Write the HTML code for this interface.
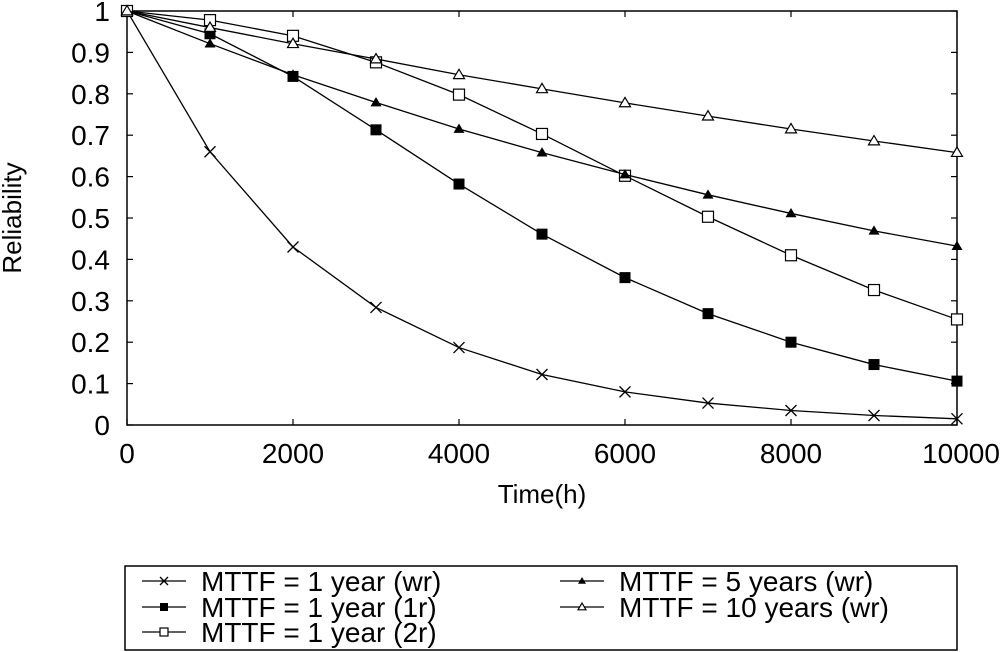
<!DOCTYPE html>
<html><head><meta charset="utf-8"><style>
html,body{margin:0;padding:0;background:#fff;}
svg{display:block;font-family:"Liberation Sans",Arial,sans-serif;}
</style></head><body>
<svg id="chart" width="1000" height="652" viewBox="0 0 1000 652"></svg>
<script>
const times=[0,1000,2000,3000,4000,5000,6000,7000,8000,9000,10000];
const seriesWr=[1,0.66,0.43,0.284,0.187,0.122,0.08,0.053,0.035,0.023,0.015];
const series1r=[1,0.945,0.842,0.713,0.582,0.461,0.356,0.269,0.2,0.146,0.106];
const series2r=[1,0.978,0.94,0.876,0.798,0.703,0.602,0.503,0.41,0.326,0.255];
const series5y=[1,0.921,0.846,0.779,0.715,0.658,0.605,0.556,0.511,0.469,0.432];
const series10y=[1,0.96,0.921,0.884,0.846,0.812,0.778,0.746,0.715,0.686,0.658];
const xTicks=[0,2000,4000,6000,8000,10000];
const yTicks=[0,0.1,0.2,0.3,0.4,0.5,0.6,0.7,0.8,0.9,1];
const seriesNames=["MTTF = 1 year (wr)","MTTF = 1 year (1r)","MTTF = 1 year (2r)","MTTF = 5 years (wr)","MTTF = 10 years (wr)"];

const NS="http://www.w3.org/2000/svg";
const svg=document.getElementById('chart');
const L=127,R=957,T=11,B=425;
const xs=v=>L+(v-0)/10000*(R-L);
const ys=v=>B-v*(B-T);
function mk(tag,attrs,parent){const e=document.createElementNS(NS,tag);for(const k in attrs)e.setAttribute(k,attrs[k]);(parent||svg).appendChild(e);return e;}

const frame=mk('rect',{x:L,y:T,width:R-L,height:B-T,fill:'none',stroke:'#000','stroke-width':1.5});



yTicks.forEach(v=>{
  const y=ys(v);
  const t=mk('line',{x1:L,x2:L+6,y1:y,y2:y,stroke:'#000','stroke-width':1.2});
  
  
  const t2=mk('line',{x1:R,x2:R-6,y1:y,y2:y,stroke:'#000','stroke-width':1.2});
  
  
  const lb=mk('text',{x:L-17,y:y+10,'text-anchor':'end','font-size':28});
  lb.textContent=String(v);
  
  
});
xTicks.forEach(v=>{
  const x=xs(v);
  const t=mk('line',{x1:x,x2:x,y1:B,y2:B-6,stroke:'#000','stroke-width':1.2});
  
  
  const t2=mk('line',{x1:x,x2:x,y1:T,y2:T+6,stroke:'#000','stroke-width':1.2});
  
  
  const lb=mk('text',{x:v===10000?x+4:x,y:B+38,'text-anchor':'middle','font-size':28});
  lb.textContent=String(v);
  
  
});
const xt=mk('text',{x:542,y:503,'text-anchor':'middle','font-size':26});
xt.textContent='Time(h)';


const yt=mk('text',{x:0,y:0,'text-anchor':'middle','font-size':26,transform:'translate(21,218) rotate(-90)'});
yt.textContent='Reliability';



function marker(type,x,y,s,parent){
  const h=s/2;
  if(type==='x'){
    return mk('path',{d:`M${x-h} ${y-h}L${x+h} ${y+h}M${x-h} ${y+h}L${x+h} ${y-h}`,stroke:'#000','stroke-width':1.3,fill:'none'},parent);
  }
  if(type==='fsq') return mk('rect',{x:x-h,y:y-h,width:s,height:s,fill:'#000'},parent);
  if(type==='osq') return mk('rect',{x:x-h,y:y-h,width:s,height:s,fill:'#fff',stroke:'#000','stroke-width':1.2},parent);
  if(type==='ftri') return mk('path',{d:`M${x} ${y-h}L${x+h} ${y+h*0.7}L${x-h} ${y+h*0.7}Z`,fill:'#000'},parent);
  if(type==='otri') return mk('path',{d:`M${x} ${y-h}L${x+h} ${y+h*0.7}L${x-h} ${y+h*0.7}Z`,fill:'#fff',stroke:'#000','stroke-width':1.2},parent);
}
const allSeries=[seriesWr,series1r,series2r,series5y,series10y];
const types=['x','fsq','osq','ftri','otri'];
const keys=['wr','1r','2r','5y-wr','10y-wr'];
allSeries.forEach((vals,i)=>{
  const g=mk('g',{});
  
  
  const pts=vals.map((v,j)=>xs(times[j])+','+ys(v)).join(' ');
  const pl=mk('polyline',{points:pts,fill:'none',stroke:'#000','stroke-width':1.3},g);
  
  
  vals.forEach((v,j)=>{
    const m=marker(types[i],xs(times[j]),ys(v),11,g);
    
    
  });
});

const lg=mk('g',{});


const lbox=mk('rect',{x:125,y:566,width:832,height:84,fill:'none',stroke:'#000','stroke-width':1.5},lg);


const pos=[[142,581],[142,607],[142,632],[560,581],[560,607]];
seriesNames.forEach((n,i)=>{
  const [x,y]=pos[i];
  const e=mk('g',{},lg);
  
  
  mk('line',{x1:x,x2:x+44,y1:y,y2:y,stroke:'#000','stroke-width':1.3},e);
  marker(types[i],x+22,y,8,e);
  const t=mk('text',{x:x+59,y:y+10,'font-size':28},e);
  t.textContent=n;
});
</script>
</body></html>
